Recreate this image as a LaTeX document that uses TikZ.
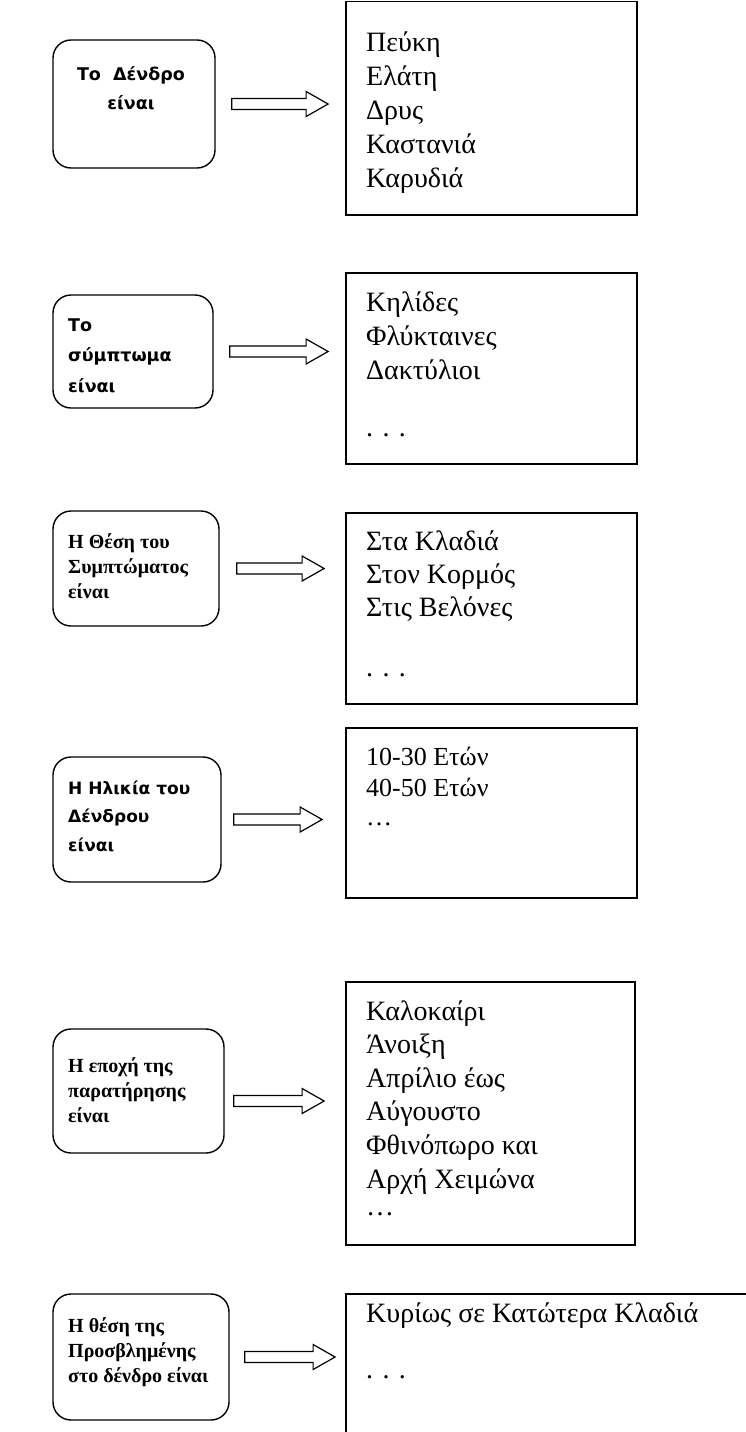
\documentclass[tikz,border=0pt]{standalone}
\usepackage{fontspec}
\setmainfont{Liberation Serif}
\newfontfamily\gothic{DejaVu Sans}
\usetikzlibrary{calc}
\begin{document}
\begin{tikzpicture}[x=1pt,y=-1pt,
  lbox/.style={draw, line width=1.4pt, rounded corners=18pt, inner sep=0pt},
  rbox/.style={draw, line width=1.8pt, inner sep=0pt},
  listtext/.style={anchor=base west, inner sep=0pt, font=\fontsize{28}{34}\selectfont},
  serifhead/.style={anchor=base west, inner sep=0pt, font=\bfseries\fontsize{20}{25}\selectfont},
  sanshead/.style={anchor=base west, inner sep=0pt, font=\gothic\bfseries\fontsize{17.5}{29}\selectfont},
  blockarrow/.style={draw, line width=1.2pt, to path={
    let \p1=(\tikztostart), \p2=(\tikztotarget) in
    (\x1,\y1+5.5pt) -- (\x2-22pt,\y1+5.5pt) -- (\x2-22pt,\y1+12.5pt) -- (\x2,\y1)
    -- (\x2-22pt,\y1-12.5pt) -- (\x2-22pt,\y1-5.5pt) -- (\x1,\y1-5.5pt) -- cycle}}
]
\useasboundingbox (0,0) rectangle (746,1432);
\clip (0,0) rectangle (746,1432);

% question boxes (left column)
\node[lbox, minimum width=162pt, minimum height=128pt] (l1) at (134,104) {};
\node[lbox, minimum width=160pt, minimum height=113pt] (l2) at (133,351.5) {};
\node[lbox, minimum width=166pt, minimum height=115pt] (l3) at (136,568.5) {};
\node[lbox, minimum width=168pt, minimum height=125pt] (l4) at (137,819.5) {};
\node[lbox, minimum width=171pt, minimum height=124pt] (l5) at (138.5,1091) {};
\node[lbox, minimum width=176pt, minimum height=126pt] (l6) at (141,1357) {};

% answer boxes (right column)
\node[rbox, minimum width=291pt, minimum height=213.5pt] (r1) at (491.5,108.25) {};
\node[rbox, minimum width=291pt, minimum height=191pt] (r2) at (491.5,368.5) {};
\node[rbox, minimum width=291pt, minimum height=191pt] (r3) at (491.5,608.5) {};
\node[rbox, minimum width=291pt, minimum height=170pt] (r4) at (491.5,813) {};
\node[rbox, minimum width=289pt, minimum height=263pt] (r5) at (490.5,1113.5) {};
\node[rbox, minimum width=434pt, minimum height=176pt] (r6) at (563,1382) {};

% question texts
\node[sanshead, anchor=base] (t1) at (131,80)
  {\begin{tabular}[t]{@{}c@{}}Το\ \ Δένδρο\\είναι\end{tabular}};
\node[sanshead, font=\gothic\bfseries\fontsize{17.5}{30.5}\selectfont] (t2) at (68,331)
  {\begin{tabular}[t]{@{}l@{}}Το\\σύμπτωμα\\είναι\end{tabular}};
\node[serifhead] (t3) at (68,548)
  {\begin{tabular}[t]{@{}l@{}}Η Θέση του\\Συμπτώματος\\είναι\end{tabular}};
\node[sanshead, font=\gothic\bfseries\fontsize{17}{28.5}\selectfont] (t4) at (68,794)
  {\begin{tabular}[t]{@{}l@{}}Η Ηλικία του\\Δένδρου\\είναι\end{tabular}};
\node[serifhead] (t5) at (68,1072)
  {\begin{tabular}[t]{@{}l@{}}Η εποχή της\\παρατήρησης\\είναι\end{tabular}};
\node[serifhead] (t6) at (68,1332)
  {\begin{tabular}[t]{@{}l@{}}Η θέση της\\Προσβλημένης\\στο δένδρο είναι\end{tabular}};

% answer lists
\node[listtext] (v1) at (366,51)
  {\begin{tabular}[t]{@{}l@{}}Πεύκη\\Ελάτη\\Δρυς\\Καστανιά\\Καρυδιά\end{tabular}};
\node[listtext] (v2) at (366,311)
  {\begin{tabular}[t]{@{}l@{}}Κηλίδες\\Φλύκταινες\\Δακτύλιοι\\[23pt]. . .\end{tabular}};
\node[listtext, font=\fontsize{28}{33}\selectfont] (v3) at (366,550)
  {\begin{tabular}[t]{@{}l@{}}Στα Κλαδιά\\Στον Κορμός\\Στις Βελόνες\\[27pt]. . .\end{tabular}};
\node[listtext, font=\fontsize{26}{31}\selectfont] (v4) at (366,765)
  {\begin{tabular}[t]{@{}l@{}}10-30 Ετών\\40-50 Ετών\\[-2pt]…\end{tabular}};
\node[listtext, font=\fontsize{28}{33.6}\selectfont] (v5) at (366,1020)
  {\begin{tabular}[t]{@{}l@{}}Καλοκαίρι\\Άνοιξη\\Απρίλιο έως\\Αύγουστο\\Φθινόπωρο και\\Αρχή Χειμώνα\\[-6pt]…\end{tabular}};
\node[listtext, font=\fontsize{28}{35}\selectfont] (v6) at (366,1322)
  {\begin{tabular}[t]{@{}l@{}}Κυρίως σε Κατώτερα Κλαδιά\\[21pt]. . .\end{tabular}};

% hollow block arrows from question to answer
\draw[blockarrow] ([xshift=16pt]l1.east) to ([xshift=-17pt]r1.west |- l1.east);
\draw[blockarrow] ([xshift=16pt]l2.east) to ([xshift=-17pt]r2.west |- l2.east);
\draw[blockarrow] ([xshift=17pt]l3.east) to ([xshift=-21pt]r3.west |- l3.east);
\draw[blockarrow] ([xshift=12pt]l4.east) to ([xshift=-23pt]r4.west |- l4.east);
\draw[blockarrow] ([xshift=9pt,yshift=-10pt]l5.east) to ([xshift=-21pt,yshift=-10pt]r5.west |- l5.east);
\draw[blockarrow] ([xshift=15pt]l6.east) to ([xshift=-10pt]r6.west |- l6.east);
\end{tikzpicture}
\end{document}
